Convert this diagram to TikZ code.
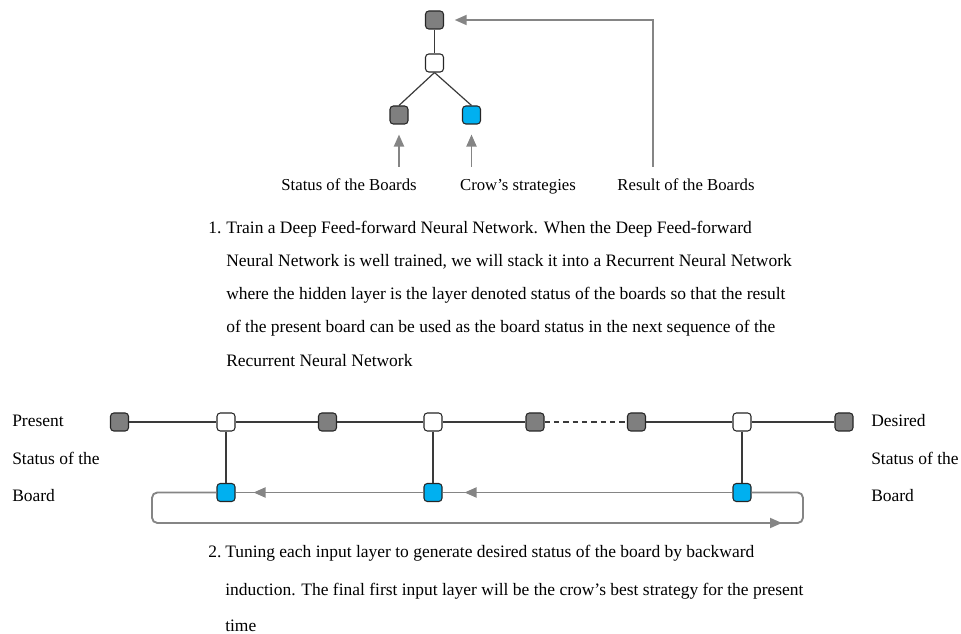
\documentclass[tikz,border=0pt]{standalone}
\usepackage{fontspec}
\setmainfont{Liberation Serif}
\usetikzlibrary{arrows.meta,decorations.markings}

\definecolor{cellgray}{HTML}{7F7F7F}
\definecolor{cellblue}{HTML}{00B0F0}
\definecolor{cellborder}{HTML}{262626}
\definecolor{linkcol}{HTML}{3A3A3A}
\definecolor{flowcol}{HTML}{858585}

\tikzset{
  cell/.style={draw=cellborder, line width=0.8pt, rounded corners=2.5pt,
    minimum width=13.5pt, minimum height=13.5pt, inner sep=0pt},
  boardcell/.style={cell, fill=cellgray},
  hiddencell/.style={cell, fill=white},
  movecell/.style={cell, fill=cellblue},
  link/.style={draw=linkcol, line width=0.9pt},
  flow/.style={draw=flowcol, line width=1.4pt},
  tip/.style={-{Triangle[length=9pt,width=7.5pt]}},
  txt/.style={font=\fontsize{13.1pt}{15pt}\selectfont, inner sep=0pt, anchor=base west},
  ctxt/.style={font=\fontsize{12.55pt}{15pt}\selectfont, inner sep=0pt, anchor=base},
  midarrow/.style={postaction={decorate}, decoration={markings,
    mark=at position #1 with {\arrow[flowcol]{Triangle[length=9pt,width=7.5pt]}}}}
}

\begin{document}
\begin{tikzpicture}[x=0.75pt, y=-0.75pt]
\useasboundingbox (0,0) rectangle (961,634);

% ---- feed-forward unit ----
\node[boardcell]  (t0) at (434.5,20) {};
\node[hiddencell] (th) at (434.5,63) {};
\node[boardcell]  (tb) at (399,115) {};
\node[movecell]   (ts) at (471.5,115) {};
\draw[link] (t0.south) -- (th.north);
\draw[link] (th.south) -- (tb.north);
\draw[link] (th.south) -- (ts.north);

\coordinate (inB) at (399,167);
\coordinate (inS) at (471.5,167);
\coordinate (res) at (653,167);
\draw[flow, tip, shorten >=7.5pt] (inB) -- (tb.south);
\draw[flow, tip, shorten >=7.5pt] (inS) -- (ts.south);
\draw[flow, tip, shorten >=8pt] (res) |- (t0.east);

\node[ctxt] (lbB) at (349,191) {Status of the Boards};
\node[ctxt] (lbS) at (518,191) {Crow’s strategies};
\node[ctxt] (lbR) at (686,191) {Result of the Boards};

% ---- step 1 text ----
\node[txt] (n1)  at (208,234) {1.};
\node[txt] (p11) at (226,234) {Train a Deep Feed-forward Neural Network. When the Deep Feed-forward};
\node[txt] (p12) at (226,267) {Neural Network is well trained, we will stack it into a Recurrent Neural Network};
\node[txt] (p13) at (226,300) {where the hidden layer is the layer denoted status of the boards so that the result};
\node[txt] (p14) at (226,333) {of the present board can be used as the board status in the next sequence of the};
\node[txt] (p15) at (226,367) {Recurrent Neural Network};

% ---- unrolled recurrent network ----
\node[boardcell]  (s0) at (119.5,422) {};
\node[hiddencell] (h1) at (226,422) {};
\node[boardcell]  (s1) at (327.5,422) {};
\node[hiddencell] (h2) at (433,422) {};
\node[boardcell]  (s2) at (535,422) {};
\node[boardcell]  (s3) at (636.5,422) {};
\node[hiddencell] (h3) at (742,422) {};
\node[boardcell]  (s4) at (844,422) {};

\node[movecell] (m1) at (226,492.5) {};
\node[movecell] (m2) at (433,492.5) {};
\node[movecell] (m3) at (742,492.5) {};

\draw[link] (s0) -- (h1);
\draw[link] (h1) -- (s1);
\draw[link] (s1) -- (h2);
\draw[link] (h2) -- (s2);
\draw[link, dash pattern=on 4pt off 3pt] (s2) -- (s3);
\draw[link] (s3) -- (h3);
\draw[link] (h3) -- (s4);
\draw[link] (h1) -- (m1);
\draw[link] (h2) -- (m2);
\draw[link] (h3) -- (m3);

% backward pass through the input layers
\draw[flow, midarrow=-16.5pt] (m3.west) -- (m2.east);
\draw[flow, midarrow=-13.5pt] (m2.west) -- (m1.east);
\coordinate (loopL) at (152,523);
\coordinate (loopR) at (803,523);
\draw[flow, rounded corners=4pt] (m1.west) -| (loopL) -- (loopR) |- (m3.east);
\coordinate (retA) at (740,523);
\coordinate (retB) at (782,523);
\draw[flow, tip] (retA) -- (retB);

\node[txt] (lp1) at (12,426.5) {Present};
\node[txt] (lp2) at (12,464.5) {Status of the};
\node[txt] (lp3) at (12,502) {Board};
\node[txt] (ld1) at (871,426.5) {Desired};
\node[txt] (ld2) at (871,464.5) {Status of the};
\node[txt] (ld3) at (871,502) {Board};

% ---- step 2 text ----
\node[txt] (n2)  at (208,557) {2.};
\node[txt] (p21) at (225,557) {Tuning each input layer to generate desired status of the board by backward};
\node[txt] (p22) at (225,595) {induction. The final first input layer will be the crow’s best strategy for the present};
\node[txt] (p23) at (225,631) {time};
\end{tikzpicture}
\end{document}
